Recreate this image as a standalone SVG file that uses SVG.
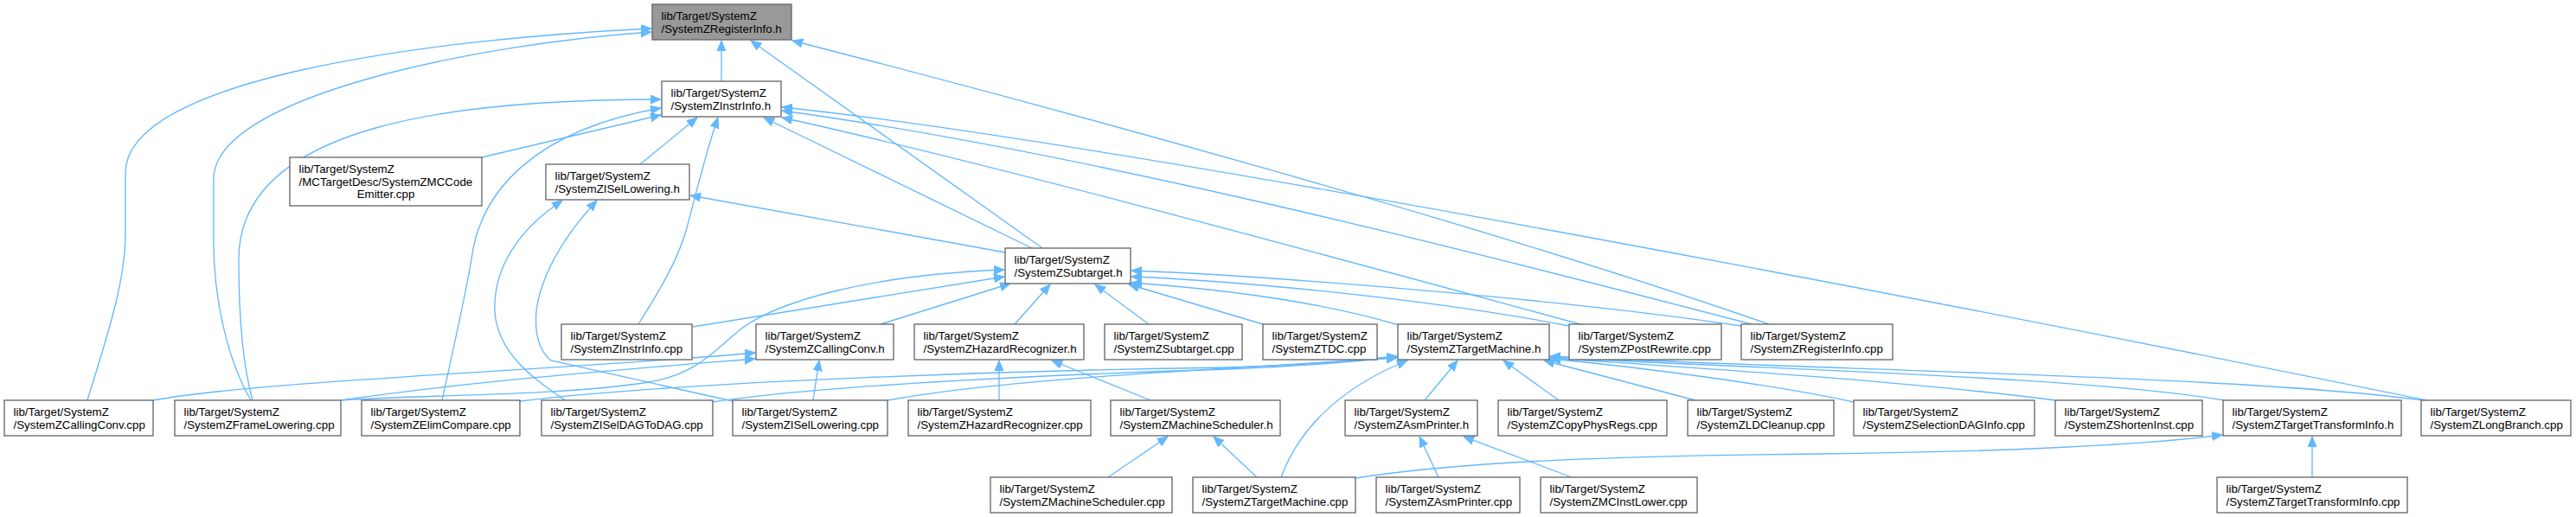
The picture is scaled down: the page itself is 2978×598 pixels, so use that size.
<svg xmlns="http://www.w3.org/2000/svg" width="2978" height="598" viewBox="0 0 2978 598">
<style>
.n rect{fill:#fff;stroke:#666;stroke-width:1.33}
.n.root rect{fill:#999}
.n text{font-family:"Liberation Sans",Arial,Helvetica,sans-serif;font-size:13.33px;fill:#000}
.e path{fill:none;stroke:#63b8ff;stroke-width:1.33;marker-end:url(#ah)}
</style>
<defs>
<marker id="ah" markerUnits="userSpaceOnUse" markerWidth="14" markerHeight="12" refX="12" refY="5" orient="auto">
<path d="M0,0 L12,5 L0,10 Z" fill="#63b8ff" stroke="#63b8ff" stroke-width="1"/>
</marker>
</defs>
<rect width="2978" height="598" fill="#fff"/>
<g class="e" id="edges">
<path d="M834,94 L834,47"/>
<path d="M101,463 C120,400 145,330 145,270 L145,200 C145,90 500,45 753,33"/>
<path d="M290,463 C265,420 247,350 247,280 L247,207 C247,110 560,50 753,37"/>
<path d="M292,463 C280,420 276,360 276,300 C276,140 540,115 764,115"/>
<path d="M511,463 C525,400 540,330 545,300 C555,220 620,150 764,125"/>
<path d="M557,182 L764,133"/>
<path d="M740,190 L806,136"/>
<path d="M738,375 C760,340 785,300 795,260 C808,210 818,170 830,136"/>
<path d="M1162,292 L798,226"/>
<path d="M1193,287 L883,136"/>
<path d="M1205,287 L868,47"/>
<path d="M2045,375 C1700,255 1200,120 916,47"/>
<path d="M2025,375 C1700,290 1250,175 904,128"/>
<path d="M2805,463 C2300,360 1300,165 904,124"/>
<path d="M1827,375 C1550,300 1150,190 904,136"/>
<path d="M2013,377 C1800,345 1450,318 1308,313"/>
<path d="M1814,377 C1650,345 1430,325 1308,320"/>
<path d="M1617,376 C1530,350 1420,335 1308,327"/>
<path d="M1460,375 L1305,329"/>
<path d="M1328,375 L1266,329"/>
<path d="M1173,375 L1214,329"/>
<path d="M1018,375 L1168,328"/>
<path d="M801,378 L1161,320"/>
<path d="M394,463 C500,456 650,458 750,442 C810,432 830,400 860,378 C900,350 1000,318 1161,312"/>
<path d="M177,463 C300,440 700,425 873,408"/>
<path d="M394,463 C550,440 750,425 873,415"/>
<path d="M940,463 L947,417"/>
<path d="M601,464 C800,440 1200,428 1420,425 C1500,423 1560,418 1615,412"/>
<path d="M823,465 C950,445 1250,432 1420,427 C1500,424 1560,419 1615,413"/>
<path d="M1026,463 C1150,440 1350,430 1615,414"/>
<path d="M1481,552 C1500,500 1545,450 1627,417"/>
<path d="M1647,463 L1685,417"/>
<path d="M1802,463 L1738,417"/>
<path d="M1960,463 L1785,417"/>
<path d="M2143,465 C2050,445 1900,425 1792,415"/>
<path d="M2376,463 C2200,440 1950,425 1792,414"/>
<path d="M2572,463 C2400,435 2050,428 1792,413"/>
<path d="M2800,463 C2600,435 2100,428 1792,412"/>
<path d="M1330,463 L1216,417"/>
<path d="M1155,463 L1155,417"/>
<path d="M1281,552 L1350,505"/>
<path d="M1453,552 L1403,505"/>
<path d="M1663,552 L1641,505"/>
<path d="M1817,552 L1692,505"/>
<path d="M1567,553 C1700,532 1900,527 2100,525 C2300,523 2480,515 2569,503"/>
<path d="M2673,552 L2673,505"/>
<path d="M653,463 C620,440 575,410 572,360 C570,310 600,265 650,232"/>
<path d="M847,464 L637,417 C622,405 618,385 620,360 C625,320 650,275 690,232"/>
</g>
<g id="n0" class="n root"><rect x="754" y="5" width="161" height="41"/><text x="764.5" y="23">lib/Target/SystemZ</text><text x="764.5" y="37.5">/SystemZRegisterInfo.h</text></g>
<g id="n1" class="n"><rect x="765" y="94" width="138" height="41"/><text x="775.5" y="112">lib/Target/SystemZ</text><text x="775.5" y="126.5">/SystemZInstrInfo.h</text></g>
<g id="n2" class="n"><rect x="335" y="182" width="222" height="56"/><text x="345.5" y="200">lib/Target/SystemZ</text><text x="345.5" y="214.5">/MCTargetDesc/SystemZMCCode</text><text x="446" y="229" text-anchor="middle">Emitter.cpp</text></g>
<g id="n3" class="n"><rect x="631" y="190" width="166" height="41"/><text x="641.5" y="208">lib/Target/SystemZ</text><text x="641.5" y="222.5">/SystemZISelLowering.h</text></g>
<g id="n4" class="n"><rect x="1162" y="287" width="145" height="41"/><text x="1172.5" y="305">lib/Target/SystemZ</text><text x="1172.5" y="319.5">/SystemZSubtarget.h</text></g>
<g id="n5" class="n"><rect x="649" y="375" width="151" height="41"/><text x="659.5" y="393">lib/Target/SystemZ</text><text x="659.5" y="407.5">/SystemZInstrInfo.cpp</text></g>
<g id="n6" class="n"><rect x="874" y="375" width="159" height="41"/><text x="884.5" y="393">lib/Target/SystemZ</text><text x="884.5" y="407.5">/SystemZCallingConv.h</text></g>
<g id="n7" class="n"><rect x="1057" y="375" width="196" height="41"/><text x="1067.5" y="393">lib/Target/SystemZ</text><text x="1067.5" y="407.5">/SystemZHazardRecognizer.h</text></g>
<g id="n8" class="n"><rect x="1277" y="375" width="159" height="41"/><text x="1287.5" y="393">lib/Target/SystemZ</text><text x="1287.5" y="407.5">/SystemZSubtarget.cpp</text></g>
<g id="n9" class="n"><rect x="1460" y="375" width="132" height="41"/><text x="1470.5" y="393">lib/Target/SystemZ</text><text x="1470.5" y="407.5">/SystemZTDC.cpp</text></g>
<g id="n10" class="n"><rect x="1616" y="375" width="175" height="41"/><text x="1626.5" y="393">lib/Target/SystemZ</text><text x="1626.5" y="407.5">/SystemZTargetMachine.h</text></g>
<g id="n11" class="n"><rect x="1814" y="375" width="176" height="41"/><text x="1824.5" y="393">lib/Target/SystemZ</text><text x="1824.5" y="407.5">/SystemZPostRewrite.cpp</text></g>
<g id="n12" class="n"><rect x="2013" y="375" width="175" height="41"/><text x="2023.5" y="393">lib/Target/SystemZ</text><text x="2023.5" y="407.5">/SystemZRegisterInfo.cpp</text></g>
<g id="n13" class="n"><rect x="5" y="463" width="172" height="41"/><text x="15.5" y="481">lib/Target/SystemZ</text><text x="15.5" y="495.5">/SystemZCallingConv.cpp</text></g>
<g id="n14" class="n"><rect x="202" y="463" width="192" height="41"/><text x="212.5" y="481">lib/Target/SystemZ</text><text x="212.5" y="495.5">/SystemZFrameLowering.cpp</text></g>
<g id="n15" class="n"><rect x="418" y="463" width="183" height="41"/><text x="428.5" y="481">lib/Target/SystemZ</text><text x="428.5" y="495.5">/SystemZElimCompare.cpp</text></g>
<g id="n16" class="n"><rect x="626" y="463" width="198" height="41"/><text x="636.5" y="481">lib/Target/SystemZ</text><text x="636.5" y="495.5">/SystemZISelDAGToDAG.cpp</text></g>
<g id="n17" class="n"><rect x="847" y="463" width="179" height="41"/><text x="857.5" y="481">lib/Target/SystemZ</text><text x="857.5" y="495.5">/SystemZISelLowering.cpp</text></g>
<g id="n18" class="n"><rect x="1050" y="463" width="211" height="41"/><text x="1060.5" y="481">lib/Target/SystemZ</text><text x="1060.5" y="495.5">/SystemZHazardRecognizer.cpp</text></g>
<g id="n19" class="n"><rect x="1284" y="463" width="196" height="41"/><text x="1294.5" y="481">lib/Target/SystemZ</text><text x="1294.5" y="495.5">/SystemZMachineScheduler.h</text></g>
<g id="n20" class="n"><rect x="1555" y="463" width="153" height="41"/><text x="1565.5" y="481">lib/Target/SystemZ</text><text x="1565.5" y="495.5">/SystemZAsmPrinter.h</text></g>
<g id="n21" class="n"><rect x="1732" y="463" width="195" height="41"/><text x="1742.5" y="481">lib/Target/SystemZ</text><text x="1742.5" y="495.5">/SystemZCopyPhysRegs.cpp</text></g>
<g id="n22" class="n"><rect x="1951" y="463" width="169" height="41"/><text x="1961.5" y="481">lib/Target/SystemZ</text><text x="1961.5" y="495.5">/SystemZLDCleanup.cpp</text></g>
<g id="n23" class="n"><rect x="2143" y="463" width="209" height="41"/><text x="2153.5" y="481">lib/Target/SystemZ</text><text x="2153.5" y="495.5">/SystemZSelectionDAGInfo.cpp</text></g>
<g id="n24" class="n"><rect x="2376" y="463" width="170" height="41"/><text x="2386.5" y="481">lib/Target/SystemZ</text><text x="2386.5" y="495.5">/SystemZShortenInst.cpp</text></g>
<g id="n25" class="n"><rect x="2570" y="463" width="206" height="41"/><text x="2580.5" y="481">lib/Target/SystemZ</text><text x="2580.5" y="495.5">/SystemZTargetTransformInfo.h</text></g>
<g id="n26" class="n"><rect x="2799" y="463" width="173" height="41"/><text x="2809.5" y="481">lib/Target/SystemZ</text><text x="2809.5" y="495.5">/SystemZLongBranch.cpp</text></g>
<g id="n27" class="n"><rect x="1145" y="552" width="210" height="41"/><text x="1155.5" y="570">lib/Target/SystemZ</text><text x="1155.5" y="584.5">/SystemZMachineScheduler.cpp</text></g>
<g id="n28" class="n"><rect x="1379" y="552" width="188" height="41"/><text x="1389.5" y="570">lib/Target/SystemZ</text><text x="1389.5" y="584.5">/SystemZTargetMachine.cpp</text></g>
<g id="n29" class="n"><rect x="1591" y="552" width="166" height="41"/><text x="1601.5" y="570">lib/Target/SystemZ</text><text x="1601.5" y="584.5">/SystemZAsmPrinter.cpp</text></g>
<g id="n30" class="n"><rect x="1781" y="552" width="181" height="41"/><text x="1791.5" y="570">lib/Target/SystemZ</text><text x="1791.5" y="584.5">/SystemZMCInstLower.cpp</text></g>
<g id="n31" class="n"><rect x="2563" y="552" width="220" height="41"/><text x="2573.5" y="570">lib/Target/SystemZ</text><text x="2573.5" y="584.5">/SystemZTargetTransformInfo.cpp</text></g>
</svg>
